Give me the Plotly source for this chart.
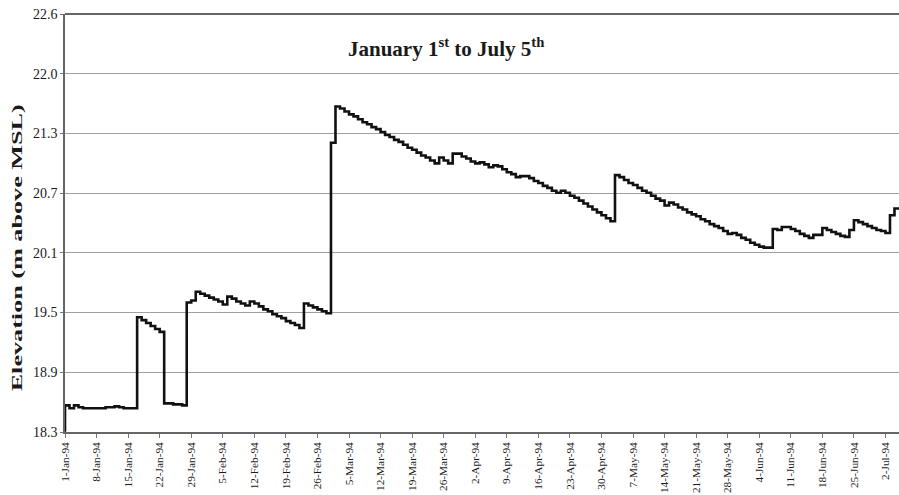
import pandas as pd
import plotly.graph_objects as go

# Daily reservoir elevation (m above MSL), 1 Jan 1994 - 5 Jul 1994
jan_levels = [18.29, 18.56, 18.53, 18.56, 18.54, 18.53, 18.53, 18.53, 18.53, 18.53,
              18.54, 18.54, 18.55, 18.54, 18.53, 18.53, 18.53, 19.46, 19.43, 19.40,
              19.37, 19.34, 19.31, 18.58, 18.58, 18.57, 18.57, 18.56, 19.61, 19.63,
              19.72]
feb_levels = [19.70, 19.68, 19.66, 19.64, 19.62, 19.59, 19.67, 19.65, 19.62, 19.60,
              19.58, 19.62, 19.60, 19.57, 19.54, 19.52, 19.49, 19.47, 19.45, 19.42,
              19.40, 19.38, 19.35, 19.60, 19.58, 19.56, 19.54, 19.52]
mar_levels = [19.50, 21.24, 21.61, 21.59, 21.56, 21.53, 21.51, 21.48, 21.45, 21.43,
              21.40, 21.38, 21.35, 21.32, 21.30, 21.27, 21.25, 21.22, 21.19, 21.17,
              21.14, 21.11, 21.09, 21.06, 21.03, 21.09, 21.06, 21.03, 21.13, 21.13,
              21.10]
apr_levels = [21.08, 21.05, 21.03, 21.04, 21.02, 20.99, 21.01, 21.00, 20.97, 20.94,
              20.92, 20.89, 20.90, 20.90, 20.88, 20.85, 20.83, 20.80, 20.78, 20.75,
              20.73, 20.75, 20.73, 20.70, 20.68, 20.65, 20.62, 20.59, 20.56, 20.53]
may_levels = [20.50, 20.47, 20.44, 20.91, 20.89, 20.86, 20.83, 20.81, 20.78, 20.75,
              20.73, 20.70, 20.67, 20.65, 20.60, 20.63, 20.61, 20.58, 20.56, 20.53,
              20.51, 20.49, 20.46, 20.44, 20.41, 20.39, 20.37, 20.34, 20.31, 20.32,
              20.30]
jun_levels = [20.27, 20.25, 20.22, 20.20, 20.18, 20.17, 20.17, 20.36, 20.35, 20.38,
              20.38, 20.36, 20.34, 20.31, 20.29, 20.27, 20.30, 20.30, 20.37, 20.35,
              20.33, 20.31, 20.29, 20.28, 20.35, 20.45, 20.43, 20.41, 20.39, 20.37]
jul_levels = [20.35, 20.34, 20.32, 20.50, 20.57]

levels = jan_levels + feb_levels + mar_levels + apr_levels + may_levels + jun_levels + jul_levels
dates = pd.date_range("1994-01-01", periods=len(levels), freq="D")

# Weekly date ticks
x_tick_dates = ["1994-01-01", "1994-01-08", "1994-01-15", "1994-01-22", "1994-01-29",
                "1994-02-05", "1994-02-12", "1994-02-19", "1994-02-26", "1994-03-05",
                "1994-03-12", "1994-03-19", "1994-03-26", "1994-04-02", "1994-04-09",
                "1994-04-16", "1994-04-23", "1994-04-30", "1994-05-07", "1994-05-14",
                "1994-05-21", "1994-05-28", "1994-06-04", "1994-06-11", "1994-06-18",
                "1994-06-25", "1994-07-02"]
x_tick_labels = ["1-Jan-94", "8-Jan-94", "15-Jan-94", "22-Jan-94", "29-Jan-94",
                 "5-Feb-94", "12-Feb-94", "19-Feb-94", "26-Feb-94", "5-Mar-94",
                 "12-Mar-94", "19-Mar-94", "26-Mar-94", "2-Apr-94", "9-Apr-94",
                 "16-Apr-94", "23-Apr-94", "30-Apr-94", "7-May-94", "14-May-94",
                 "21-May-94", "28-May-94", "4-Jun-94", "11-Jun-94", "18-Jun-94",
                 "25-Jun-94", "2-Jul-94"]

# Elevation gridlines every 2 ft, labelled in metres
y_tick_vals = [18.288, 18.898, 19.507, 20.117, 20.726, 21.336, 21.946, 22.555]
y_tick_labels = ["18.3", "18.9", "19.5", "20.1", "20.7", "21.3", "22.0", "22.6"]

serif = "Liberation Serif, Times New Roman, serif"

fig = go.Figure()
fig.add_trace(go.Scatter(
    x=dates, y=levels, mode="lines",
    line=dict(color="#111111", width=2.6, shape="vh"),
    showlegend=False, hoverinfo="x+y",
))

fig.update_layout(
    width=899, height=495,
    margin=dict(l=65, r=0, t=14, b=63, autoexpand=False),
    paper_bgcolor="white", plot_bgcolor="white",
    font=dict(family=serif, color="#222222"),
    annotations=[
        dict(
            text="January 1<sup>st</sup> to July 5<sup>th</sup>",
            xref="paper", yref="paper", x=0.457, y=0.921,
            xanchor="center", yanchor="middle", showarrow=False,
            font=dict(family=serif, size=21, color="#1a1a1a", weight="bold"),
        ),
        dict(
            text="Elevation (m above MSL)",
            xref="paper", yref="paper", x=-0.0575, y=0.44,
            xanchor="center", yanchor="middle", showarrow=False, textangle=-90,
            font=dict(family=serif, size=15, color="#1a1a1a", weight="bold"),
        ),
    ],
)

fig.update_xaxes(
    type="date",
    range=["1994-01-01", "1994-07-05"],
    tickvals=x_tick_dates, ticktext=x_tick_labels,
    tickangle=-90, tickfont=dict(family=serif, size=11.3, color="#1a1a1a"),
    ticks="outside", ticklen=4, tickcolor="#777777",
    showgrid=False, zeroline=False,
    showline=True, linecolor="#666666", linewidth=1.5,
    automargin=False,
)
fig.update_yaxes(
    range=[18.288, 22.555],
    tickvals=y_tick_vals, ticktext=y_tick_labels,
    tickfont=dict(family=serif, size=14, color="#1a1a1a"),
    ticks="outside", ticklen=3, tickcolor="#777777",
    showgrid=True, gridcolor="#a0a0a0", gridwidth=1.2,
    zeroline=False, showline=True, linecolor="#666666", linewidth=1.5,
    automargin=False,
)

# Top frame line of the plot area
fig.add_shape(type="line", xref="paper", yref="paper", x0=0, x1=1, y0=1, y1=1,
              line=dict(color="#666666", width=2))

# Stretch the vertical axis caption along its reading direction
stretch_caption = """
var caps = document.querySelectorAll('.annotation-text');
if (caps.length > 1) {
  caps[1].setAttribute('textLength', '287');
  caps[1].setAttribute('lengthAdjust', 'spacingAndGlyphs');
}
"""

fig.write_html("out.html", post_script=stretch_caption)
